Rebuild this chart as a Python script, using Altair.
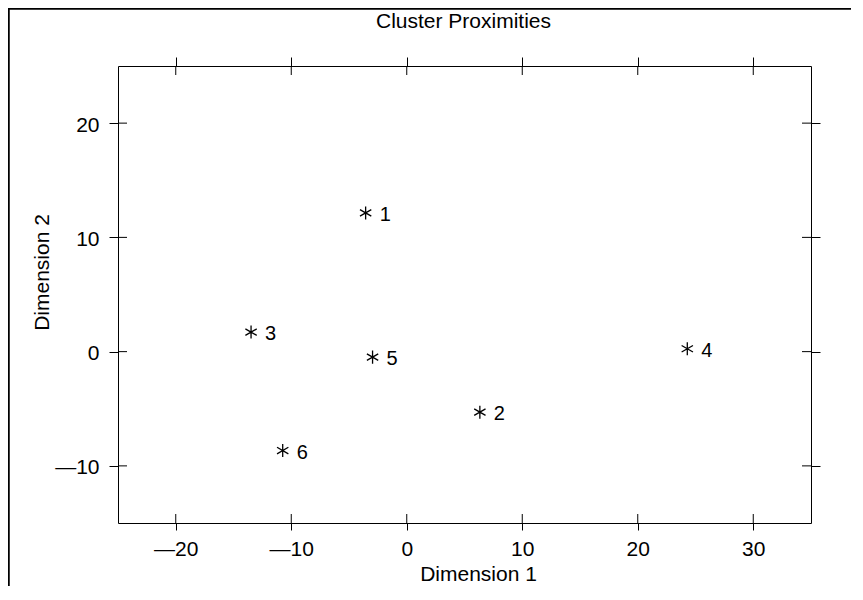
import altair as alt
import pandas as pd

# ---- data ----
chart_title = ["Cluster Proximities"]
cluster = ["1", "2", "3", "4", "5", "6"]
dim1 = [-3.56, 6.33, -13.48, 24.29, -2.96, -10.74]
dim2 = [12.14, -5.30, 1.71, 0.25, -0.48, -8.66]
x_ticks = [-20, -10, 0, 10, 20, 30]
y_ticks = [-10, 0, 10, 20]
x_domain = [-25, 35]
y_domain = [-15, 25]

W, H = 693, 457
FONT = "Liberation Sans"

df = pd.DataFrame({"cluster": cluster, "dim1": dim1, "dim2": dim2})
xt = pd.DataFrame({"v": x_ticks})
yt = pd.DataFrame({"v": y_ticks})
one = pd.DataFrame({"a": [0]})
tdf = pd.DataFrame({"t": chart_title})

xs = alt.Scale(domain=x_domain, nice=False, zero=False)
ys = alt.Scale(domain=y_domain, nice=False, zero=False)

label_expr = "datum.value < 0 ? '\u2014' + format(-datum.value, 'd') : format(datum.value, 'd')"
star = "M0,-1L0,1M-0.87,-0.5L0.87,0.5M-0.87,0.5L0.87,-0.5"

common_axis = dict(grid=False, domain=False, tickColor="black", tickWidth=1,
                   labelColor="black", titleColor="black", labelFont=FONT,
                   titleFont=FONT, labelFontSize=21, titleFontSize=21,
                   titleFontWeight="normal")

x_bottom = alt.Axis(orient="bottom", values=x_ticks, tickSize=7, labelPadding=8,
                    labelExpr=label_expr, title="Dimension 1", titleX=360, titleY=57,
                    titleBaseline="alphabetic", titleAlign="center", **common_axis)
y_left = alt.Axis(orient="left", values=y_ticks, tickSize=9, labelPadding=10,
                  labelOffset=2, labelExpr=label_expr, title="Dimension 2",
                  titleX=-70, titleY=206, titleAngle=-90, titleBaseline="alphabetic",
                  titleAlign="center", **common_axis)
x_top = alt.Axis(orient="top", values=x_ticks, tickSize=9, labels=False, title=None,
                 **common_axis)
y_right = alt.Axis(orient="right", values=y_ticks, tickSize=9, labels=False, title=None,
                   **common_axis)

points = alt.Chart(df).mark_point(
    shape=star, size=170, strokeWidth=1.3, color="black", filled=False, opacity=1
).encode(
    x=alt.X("dim1:Q", scale=xs, axis=x_bottom),
    y=alt.Y("dim2:Q", scale=ys, axis=y_left),
)

labels = alt.Chart(df).mark_text(
    align="left", baseline="middle", dx=14, dy=2, fontSize=20, font=FONT, color="black"
).encode(
    x=alt.X("dim1:Q", scale=xs, axis=None),
    y=alt.Y("dim2:Q", scale=ys, axis=None),
    text="cluster:N",
)

title_mark = alt.Chart(tdf).mark_text(
    align="center", baseline="alphabetic", fontSize=21, font=FONT, color="black"
).encode(
    text="t:N", x=alt.value(W / 2 - 1), y=alt.value(-38)
)

tick_bottom_in = alt.Chart(xt).mark_rule(color="black", strokeWidth=1).encode(
    x=alt.X("v:Q", scale=xs, axis=None), y=alt.value(H - 9), y2=alt.value(H)
)
tick_top_in = alt.Chart(xt).mark_rule(color="black", strokeWidth=1).encode(
    x=alt.X("v:Q", scale=xs, axis=x_top), y=alt.value(0), y2=alt.value(9)
)
tick_left_in = alt.Chart(yt).mark_rule(color="black", strokeWidth=1).encode(
    y=alt.Y("v:Q", scale=ys, axis=None), x=alt.value(0), x2=alt.value(9)
)
tick_right_in = alt.Chart(yt).mark_rule(color="black", strokeWidth=1).encode(
    y=alt.Y("v:Q", scale=ys, axis=y_right), x=alt.value(W - 9), x2=alt.value(W)
)

frame = alt.Chart(one).mark_rect(fill="white", fillOpacity=0, stroke="black", strokeWidth=2.5).encode(
    x=alt.value(-109.5), x2=alt.value(W + 200), y=alt.value(-57.5), y2=alt.value(H + 200)
)

chart = alt.layer(
    frame, tick_bottom_in, tick_top_in, tick_left_in, tick_right_in, points, labels, title_mark
).resolve_axis(
    x="independent", y="independent"
).properties(
    width=W, height=H,
    autosize=alt.AutoSizeParams(type="none"),
    padding={"left": 110, "top": 58, "right": 40, "bottom": 63},
).configure_view(stroke="black", strokeWidth=1)

chart.save("out.html", embed_options={"renderer": "svg", "actions": False})
